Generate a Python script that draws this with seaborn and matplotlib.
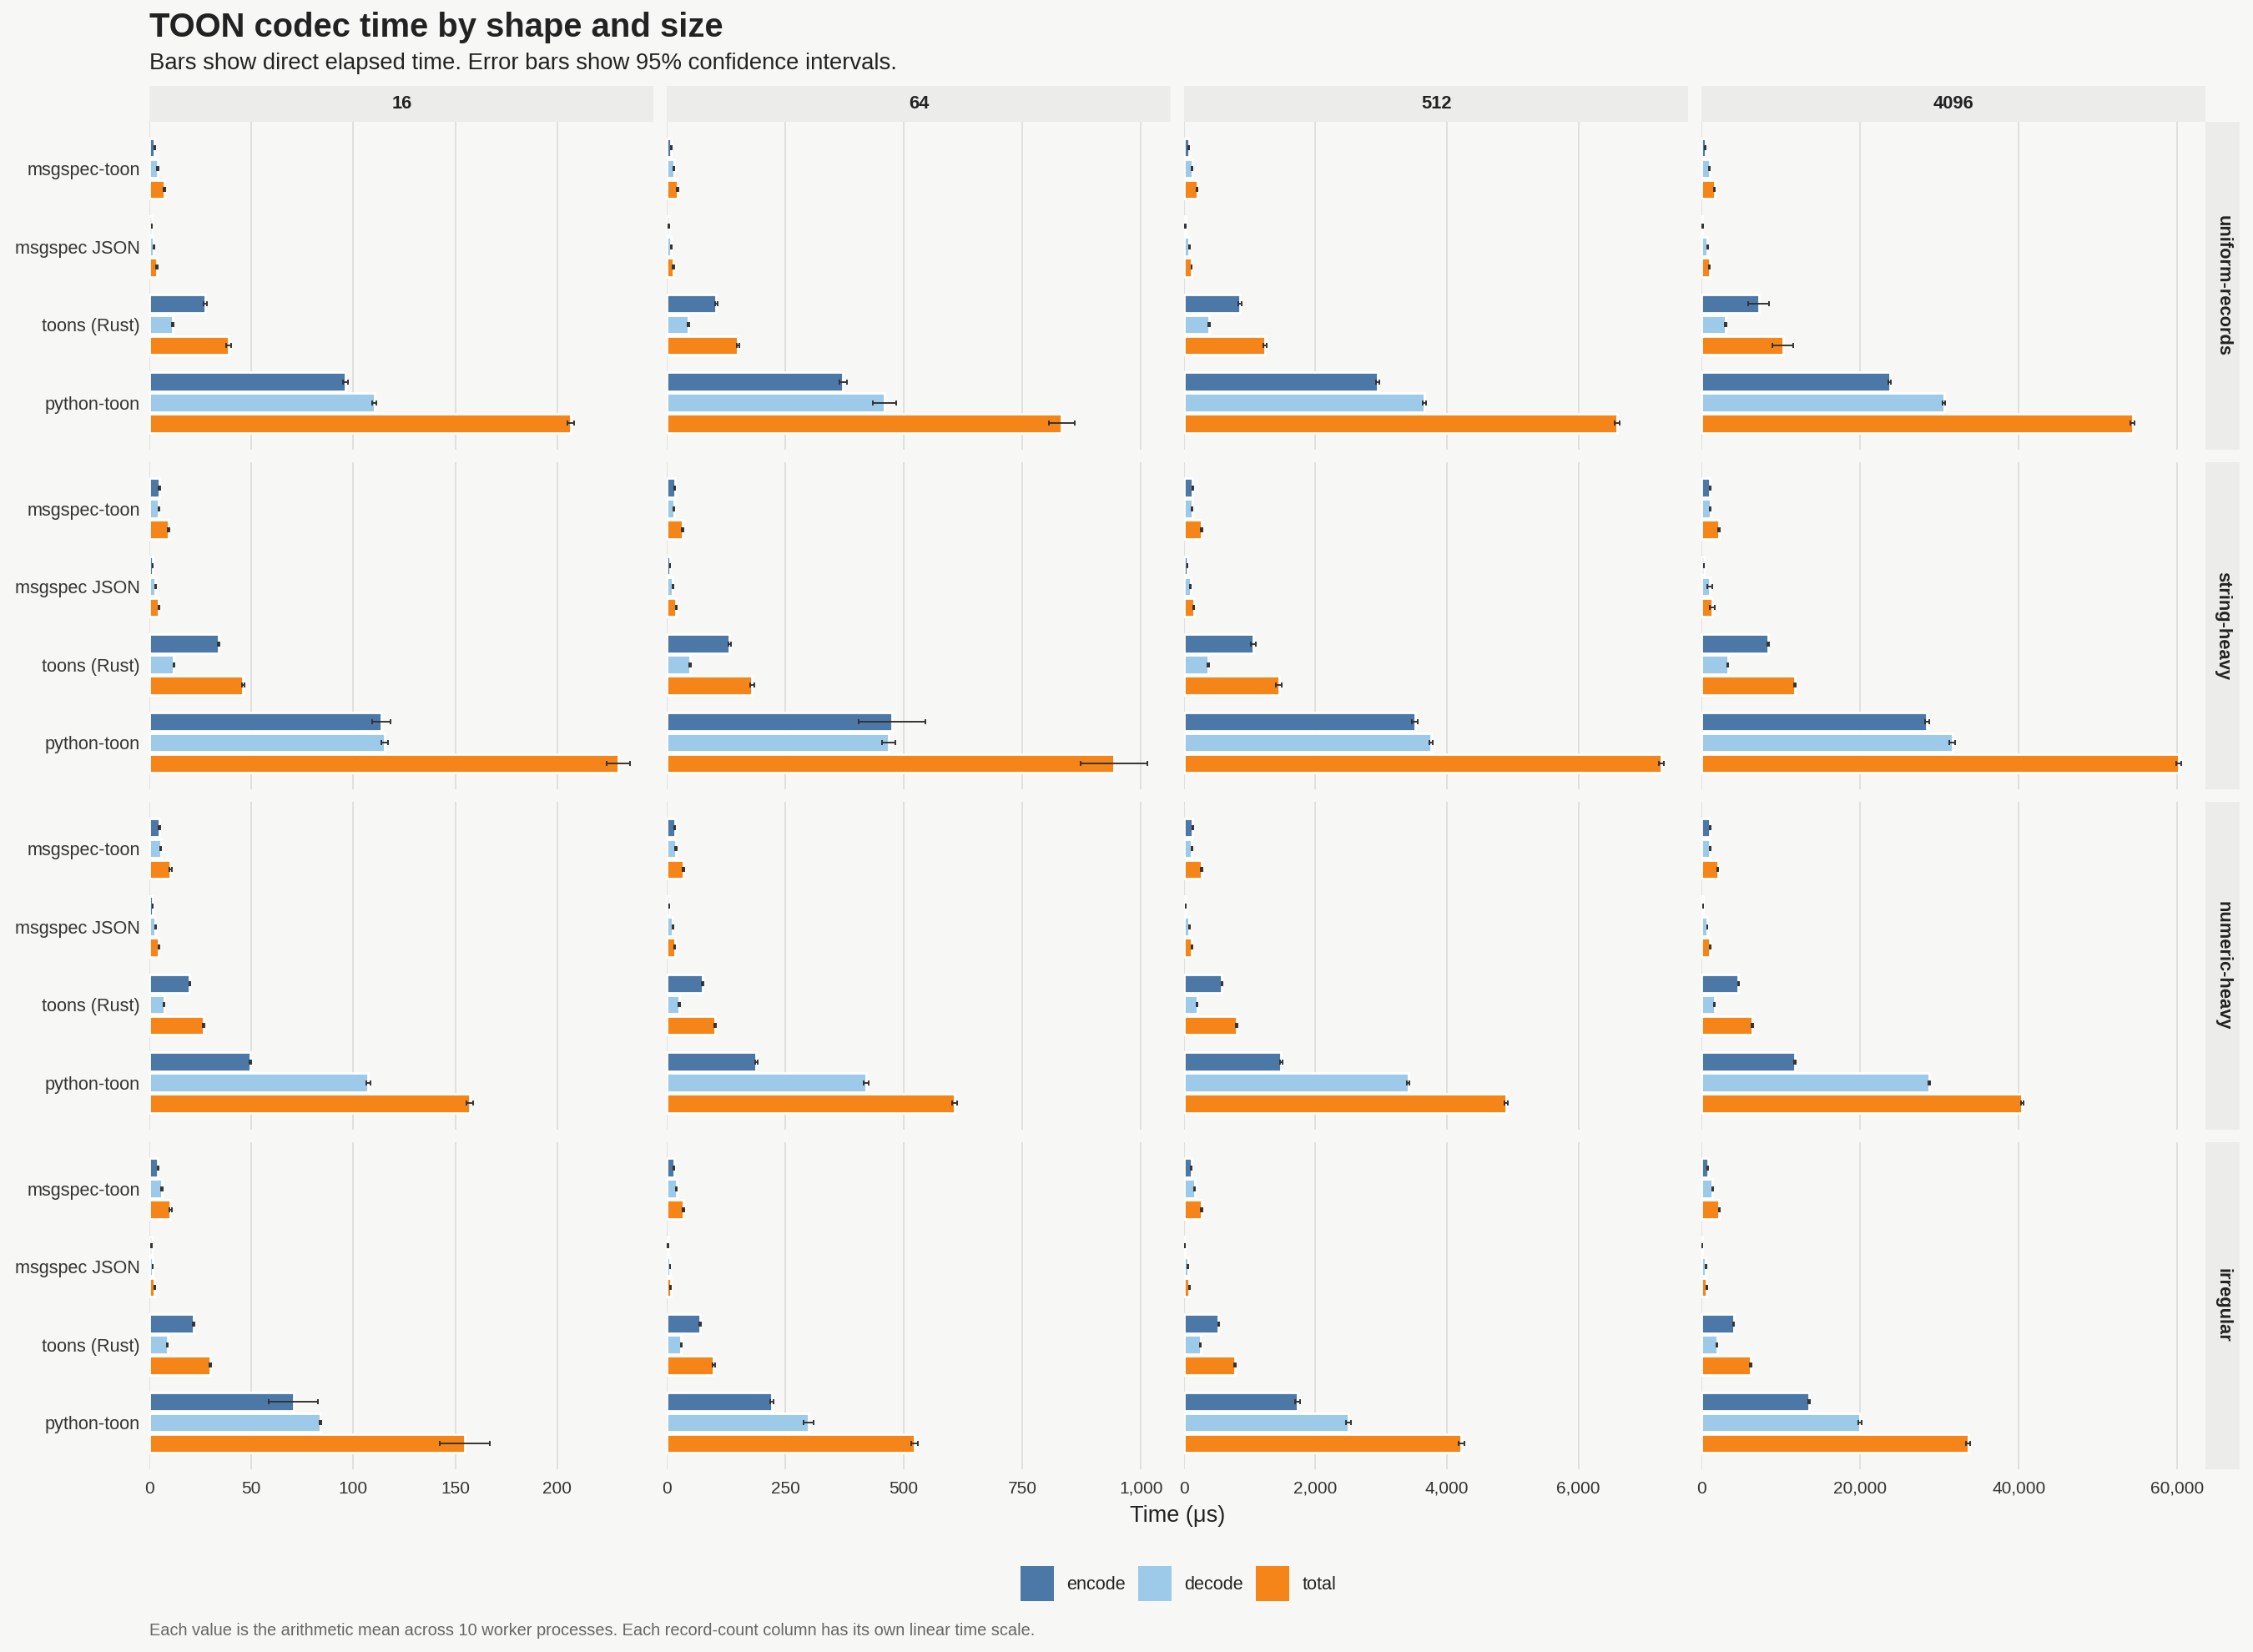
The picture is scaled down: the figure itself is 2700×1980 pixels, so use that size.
import numpy as np
import pandas as pd
import matplotlib
matplotlib.use("Agg")
import matplotlib.pyplot as plt
import seaborn as sns
from matplotlib.ticker import MultipleLocator, FuncFormatter
from matplotlib.patches import Patch

# categories
shapes = ["uniform-records", "string-heavy", "numeric-heavy", "irregular"]
sizes = [16, 64, 512, 4096]
libraries = ["msgspec-toon", "msgspec JSON", "toons (Rust)", "python-toon"]
phases = ["encode", "decode", "total"]

# mean time in microseconds, one row per record count, columns follow `libraries`
uniform_encode = [[2.6, 1.1, 27.4, 96.0], [9.4, 4.7, 104.7, 372], [74, 21, 853, 2947], [522, 174, 7228, 23774]]
uniform_decode = [[4.0, 2.2, 11.3, 110.3], [15.6, 9.4, 45.3, 459], [126, 84, 379, 3653], [1045, 784, 3048, 30567]]
uniform_total = [[7.3, 3.6, 38.7, 206.6], [23.4, 14.0, 150, 833], [200, 116, 1232, 6590], [1655, 1045, 10276, 54340]]

string_encode = [[4.9, 1.6, 33.8, 113.8], [16.8, 7.0, 132.7, 474.9], [131, 51, 1052, 3511], [1088, 335, 8452, 28452]]
string_decode = [[4.6, 2.9, 12.0, 115.4], [15.0, 12.6, 48.9, 467.9], [125, 101, 374, 3754], [1172, 1088, 3347, 31632]]
string_total = [[9.4, 4.6, 45.9, 229.9], [33.5, 19.6, 180.2, 942.7], [263, 152, 1447, 7265], [2259, 1423, 11800, 60167]]

numeric_encode = [[4.9, 1.6, 19.8, 49.4], [16.8, 5.6, 75.4, 188.5], [131, 30, 577, 1477], [1088, 251, 4686, 11800]]
numeric_decode = [[5.5, 2.9, 7.2, 107.3], [19.6, 12.6, 26.5, 420.4], [121, 81, 202, 3410], [1088, 753, 1674, 28703]]
numeric_total = [[10.4, 4.6, 26.7, 157.1], [34.9, 16.8, 102, 607.5], [263, 121, 799, 4897], [2092, 1088, 6444, 40418]]

irregular_encode = [[4.2, 1.0, 21.5, 70.6], [15.4, 2.8, 69.8, 222], [111, 10, 526, 1730], [837, 84, 4100, 13556]]
irregular_decode = [[6.2, 1.6, 8.8, 83.9], [21.0, 7.0, 30.7, 298.9], [162, 61, 253, 2499], [1423, 586, 2008, 20000]]
irregular_total = [[10.4, 2.6, 29.9, 154.8], [34.9, 8.4, 99.2, 522.3], [273, 81, 779, 4219], [2259, 669, 6192, 33640]]

# 95% CI half widths, same layout
uniform_encode_ci = [[0.3, 0.1, 1.0, 1.2], [1, 0.5, 2, 8], [8, 3, 25, 25], [40, 20, 1350, 150]]
uniform_decode_ci = [[0.3, 0.2, 0.4, 1.0], [1, 0.6, 2, 25], [8, 5, 10, 25], [50, 40, 80, 200]]
uniform_total_ci = [[0.5, 0.3, 1.2, 1.5], [1.5, 1, 3, 27], [10, 6, 25, 35], [60, 50, 1350, 300]]

string_encode_ci = [[0.3, 0.1, 0.4, 4.4], [1, 0.5, 3, 70], [8, 4, 40, 40], [50, 30, 100, 300]]
string_decode_ci = [[0.3, 0.2, 0.3, 1.6], [1, 0.7, 1.5, 14], [8, 5, 12, 25], [60, 300, 80, 350]]
string_total_ci = [[0.5, 0.3, 0.6, 5.7], [1.5, 1, 4, 70], [12, 8, 45, 40], [90, 300, 120, 350]]

numeric_encode_ci = [[0.3, 0.1, 0.3, 0.5], [1, 0.4, 1.5, 2.5], [8, 3, 10, 20], [50, 20, 60, 80]]
numeric_decode_ci = [[0.3, 0.2, 0.3, 1.0], [1.2, 0.7, 1, 5], [8, 5, 8, 20], [50, 40, 60, 100]]
numeric_total_ci = [[0.5, 0.3, 0.4, 1.5], [1.5, 1, 2, 5], [12, 6, 15, 25], [80, 50, 90, 150]]

irregular_encode_ci = [[0.3, 0.1, 0.4, 12.2], [1, 0.3, 2, 3], [6, 2, 10, 35], [40, 15, 60, 100]]
irregular_decode_ci = [[0.3, 0.1, 0.3, 0.5], [1, 0.5, 1, 10], [8, 4, 8, 35], [60, 30, 50, 250]]
irregular_total_ci = [[0.5, 0.2, 0.5, 12.2], [1.5, 0.5, 2, 7], [12, 5, 15, 45], [80, 40, 90, 250]]

tick_steps = [50, 250, 2000, 20000]

means = {
    "uniform-records": [uniform_encode, uniform_decode, uniform_total],
    "string-heavy": [string_encode, string_decode, string_total],
    "numeric-heavy": [numeric_encode, numeric_decode, numeric_total],
    "irregular": [irregular_encode, irregular_decode, irregular_total],
}
cis = {
    "uniform-records": [uniform_encode_ci, uniform_decode_ci, uniform_total_ci],
    "string-heavy": [string_encode_ci, string_decode_ci, string_total_ci],
    "numeric-heavy": [numeric_encode_ci, numeric_decode_ci, numeric_total_ci],
    "irregular": [irregular_encode_ci, irregular_decode_ci, irregular_total_ci],
}

records = []
for shape in shapes:
    for p, phase in enumerate(phases):
        for s, size in enumerate(sizes):
            for l, lib in enumerate(libraries):
                records.append({
                    "shape": shape, "size": size, "library": lib, "phase": phase,
                    "time": means[shape][p][s][l], "ci": cis[shape][p][s][l],
                })
df = pd.DataFrame(records)

bg = "#f7f7f5"
strip_bg = "#ececea"
colors = {"encode": "#4c78a8", "decode": "#9ecae9", "total": "#f58518"}
text_col = "#222222"

sns.set_theme(style="white")
plt.rcParams["font.family"] = ["Liberation Sans", "DejaVu Sans"]
plt.rcParams["axes.facecolor"] = bg
plt.rcParams["figure.facecolor"] = bg

fig = plt.figure(figsize=(13.5, 9.9), dpi=200)

left0 = 104 / 1568
pw = 351 / 1568
col_step = 360 / 1568
top0 = 146 / 1980
ph = 392.6 / 1980
row_step = 407.5 / 1980
strip_h = 43 / 1980
rstrip_w = 41 / 2700

for r, shape in enumerate(shapes):
    for c, size in enumerate(sizes):
        sub = df[(df["shape"] == shape) & (df["size"] == size)]
        bottom = 1 - (top0 + r * row_step + ph)
        ax = fig.add_axes([left0 + c * col_step, bottom, pw, ph])
        sns.barplot(data=sub, x="time", y="library", hue="phase", order=libraries,
                    hue_order=phases, palette=colors, width=0.8, gap=0.1,
                    saturation=1, errorbar=None, legend=False, orient="h", ax=ax)
        # confidence intervals
        for patch in ax.patches:
            yc = patch.get_y() + patch.get_height() / 2
            cat = int(round(yc))
            hue = int(round((yc - cat) / (0.8 / 3))) + 1
            row = sub[(sub["library"] == libraries[cat]) & (sub["phase"] == phases[hue])].iloc[0]
            ax.errorbar(row["time"], yc, xerr=row["ci"], fmt="none", ecolor="#333333",
                        elinewidth=0.7, capsize=1.2, capthick=0.7, zorder=5)

        col_df = df[df["size"] == size]
        xmax = (col_df["time"] + col_df["ci"]).max() * 1.05
        ax.set_xlim(0, xmax)
        ax.set_ylim(3.6, -0.6)
        ax.xaxis.set_major_locator(MultipleLocator(tick_steps[c]))
        ax.xaxis.set_major_formatter(FuncFormatter(lambda v, _: f"{v:,.0f}"))
        ax.grid(axis="x", color="#dcdcdc", linewidth=0.6)
        ax.grid(axis="y", visible=False)
        ax.set_axisbelow(True)
        for sp in ax.spines.values():
            sp.set_visible(False)
        ax.set_xlabel("")
        ax.set_ylabel("")
        ax.tick_params(axis="both", length=0, colors="#333333")
        ax.tick_params(axis="x", pad=5, labelsize=7.5)
        ax.tick_params(axis="y", pad=4, labelsize=7.8)
        if c != 0:
            ax.tick_params(labelleft=False)
        if r != len(shapes) - 1:
            ax.tick_params(labelbottom=False)

        if r == 0:
            sax = fig.add_axes([left0 + c * col_step, 1 - top0, pw, strip_h])
            sax.set_facecolor(strip_bg)
            sax.set_xticks([])
            sax.set_yticks([])
            for sp in sax.spines.values():
                sp.set_visible(False)
            sax.text(0.5, 0.5, str(size), ha="center", va="center", fontsize=7.9,
                     fontweight="bold", color=text_col, transform=sax.transAxes)
        if c == len(sizes) - 1:
            rax = fig.add_axes([left0 + c * col_step + pw, bottom, rstrip_w, ph])
            rax.set_facecolor(strip_bg)
            rax.set_xticks([])
            rax.set_yticks([])
            for sp in rax.spines.values():
                sp.set_visible(False)
            rax.text(0.5, 0.5, shape, ha="center", va="center", rotation=-90,
                     fontsize=7.9, fontweight="bold", color=text_col, transform=rax.transAxes)

fig.text(left0, 0.978, "TOON codec time by shape and size", fontsize=14.4,
         fontweight="bold", color=text_col, va="baseline")
fig.text(left0, 0.958, "Bars show direct elapsed time. Error bars show 95% confidence intervals.",
         fontsize=9.9, color=text_col, va="baseline")
fig.text(0.5226, 0.0823, "Time (μs)", ha="center", va="center", fontsize=9.75, color=text_col)

handles = [Patch(facecolor=colors[p], edgecolor="none", label=p) for p in phases]
fig.legend(handles=handles, loc="center", bbox_to_anchor=(0.523, 0.0414), ncol=3,
           frameon=False, fontsize=7.8, handlelength=1.85, handleheight=2.6,
           handletextpad=0.7, columnspacing=0.7, labelcolor=text_col)

fig.text(left0, 0.0101, "Each value is the arithmetic mean across 10 worker processes. "
         "Each record-count column has its own linear time scale.",
         fontsize=7.2, color="#666666", va="baseline")

fig.savefig("out.png", dpi=200, facecolor=bg)
